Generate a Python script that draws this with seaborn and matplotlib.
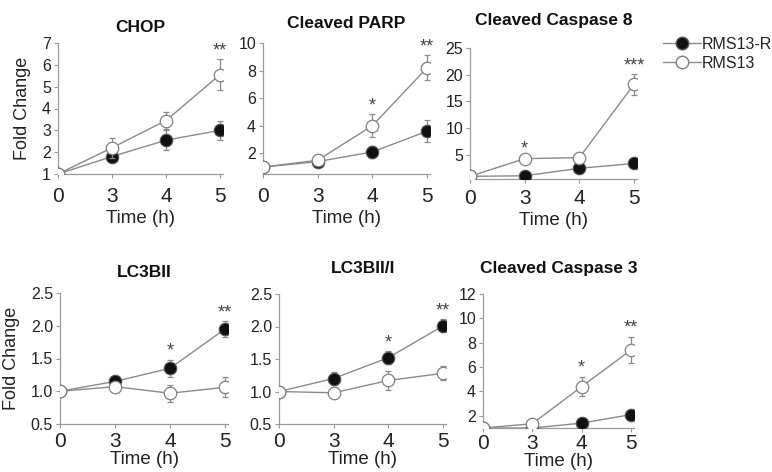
import numpy as np
import pandas as pd
import matplotlib
matplotlib.use("Agg")
import matplotlib.pyplot as plt
import seaborn as sns
from matplotlib.lines import Line2D

# donnees
time_labels = ["0", "3", "4", "5"]
titles = ["CHOP", "Cleaved PARP", "Cleaved Caspase 8",
          "LC3BII", "LC3BII/I", "Cleaved Caspase 3"]
series_names = ["RMS13-R", "RMS13"]

rms13r_vals = [[1, 1.8, 2.55, 3.0],
               [1, 1.4, 2.1, 3.6],
               [1, 1.1, 2.5, 3.4],
               [1, 1.15, 1.35, 1.95],
               [1, 1.2, 1.52, 2.01],
               [1, 1.0, 1.4, 2.1]]
rms13r_err = [[0, 0.1, 0.45, 0.45],
              [0, 0.1, 0.45, 0.8],
              [0, 0.2, 0.3, 0.3],
              [0, 0.04, 0.13, 0.12],
              [0, 0.1, 0.1, 0.1],
              [0, 0.2, 0.2, 0.3]]
rms13_vals = [[1, 2.2, 3.45, 5.55],
              [1, 1.5, 4.0, 8.2],
              [1, 4.3, 4.5, 18.2],
              [1, 1.07, 0.97, 1.06],
              [1, 0.98, 1.17, 1.28],
              [1, 1.35, 4.4, 7.4]]
rms13_err = [[0, 0.45, 0.4, 0.7],
             [0, 0.15, 0.85, 0.9],
             [0, 0.3, 0.3, 1.9],
             [0, 0.06, 0.13, 0.15],
             [0, 0.05, 0.14, 0.11],
             [0, 0.2, 0.8, 1.1]]
stars = [["", "", "", "**"],
         ["", "", "*", "**"],
         ["", "*", "", "***"],
         ["", "", "*", "**"],
         ["", "", "*", "**"],
         ["", "", "*", "**"]]

ylims = [(1, 7), (0.5, 10), (0.5, 25), (0.5, 2.5), (0.5, 2.5), (1, 12)]
yticks = [[1, 2, 3, 4, 5, 6, 7], [2, 4, 6, 8, 10], [5, 10, 15, 20, 25],
          [0.5, 1.0, 1.5, 2.0, 2.5], [0.5, 1.0, 1.5, 2.0, 2.5], [2, 4, 6, 8, 10, 12]]

# position des axes en pixels : gauche, haut, bas, largeur pour 3 unites
W, H = 772, 472
boxes = [(58, 43, 174, 162), (263, 43, 174, 164), (470, 48, 179, 164),
         (60, 293, 424, 165), (279, 294, 424, 164), (483, 294, 428, 148)]
title_pads = [8, 11, 16.5, 11.5, 15, 15]
xtick_pads = [6.5, 6.5, 4, 2.5, 2.5, 1]
xlabel_pads = [3, 3, 3, 0, 0, 0]

sns.set_style("white")
plt.rcParams["font.family"] = ["Liberation Sans", "DejaVu Sans"]

fig = plt.figure(figsize=(W / 100, H / 100), dpi=100)

line_col = "#8a8a8a"
axis_col = "#9a9a9a"
pos = np.arange(len(time_labels))

for i in range(6):
    l, t, b, span = boxes[i]
    ax = fig.add_axes([l / W, 1 - b / H, span * 1.02 / W, (b - t) / H])
    ax.set_xlim(0, 3 * 1.02)

    # RMS13-R (ronds pleins) puis RMS13 (ronds vides)
    ax.errorbar(pos, rms13r_vals[i], yerr=rms13r_err[i], fmt="none",
                ecolor=line_col, elinewidth=0.9, capsize=2.5, capthick=0.9, zorder=2)
    sns.lineplot(x=pos, y=rms13r_vals[i], ax=ax, color=line_col, linewidth=1,
                 marker="o", markersize=9, markerfacecolor="#111111",
                 markeredgecolor="#555555", markeredgewidth=0.8, zorder=3)
    ax.errorbar(pos, rms13_vals[i], yerr=rms13_err[i], fmt="none",
                ecolor=line_col, elinewidth=0.9, capsize=2.5, capthick=0.9, zorder=4)
    sns.lineplot(x=pos, y=rms13_vals[i], ax=ax, color=line_col, linewidth=1,
                 marker="o", markersize=9, markerfacecolor="white",
                 markeredgecolor="#808080", markeredgewidth=0.9, zorder=5)

    # etoiles de significativite
    top = np.maximum(np.array(rms13r_vals[i]) + np.array(rms13r_err[i]),
                     np.array(rms13_vals[i]) + np.array(rms13_err[i]))
    for j, s in enumerate(stars[i]):
        if s:
            ax.annotate(s, (pos[j], top[j]), xytext=(0, 0), textcoords="offset points",
                        ha="center", va="bottom", fontsize=13, color="#444444")

    ax.set_ylim(*ylims[i])
    ax.set_yticks(yticks[i])
    if i in (3, 4):
        ax.set_yticklabels([f"{v:.1f}" for v in yticks[i]])
    ax.set_xticks(pos)
    ax.set_xticklabels(time_labels)
    ax.tick_params(axis="x", labelsize=15, length=3, width=0.8, color=axis_col,
                   direction="out", pad=xtick_pads[i], labelcolor="#222222", bottom=True)
    ax.tick_params(axis="y", labelsize=11.5, length=3, width=0.8, color=axis_col,
                   direction="out", pad=2, labelcolor="#222222", left=True)
    sns.despine(ax=ax)
    for sp in ["left", "bottom"]:
        ax.spines[sp].set_color(axis_col)
        ax.spines[sp].set_linewidth(0.9)

    ax.set_title(titles[i], fontsize=12.5, fontweight="bold", pad=title_pads[i], color="#111111")
    ax.set_xlabel("Time (h)", fontsize=13.5, color="#222222", labelpad=xlabel_pads[i])
    if i in (0, 3):
        ax.set_ylabel("Fold Change", fontsize=13, color="#222222", labelpad=8)
    else:
        ax.set_ylabel("")

handles = [Line2D([], [], color=line_col, linewidth=1, marker="o", markersize=9,
                  markerfacecolor="#111111", markeredgecolor="#555555"),
           Line2D([], [], color=line_col, linewidth=1, marker="o", markersize=9,
                  markerfacecolor="white", markeredgecolor="#808080")]
fig.legend(handles, series_names, loc="upper left", bbox_to_anchor=(655 / W, 1 - 29 / H),
           frameon=False, fontsize=11.5, handlelength=2.4, handletextpad=0.05,
           labelspacing=0.25, borderpad=0, labelcolor="#222222")

fig.savefig("out.png", dpi=100)
